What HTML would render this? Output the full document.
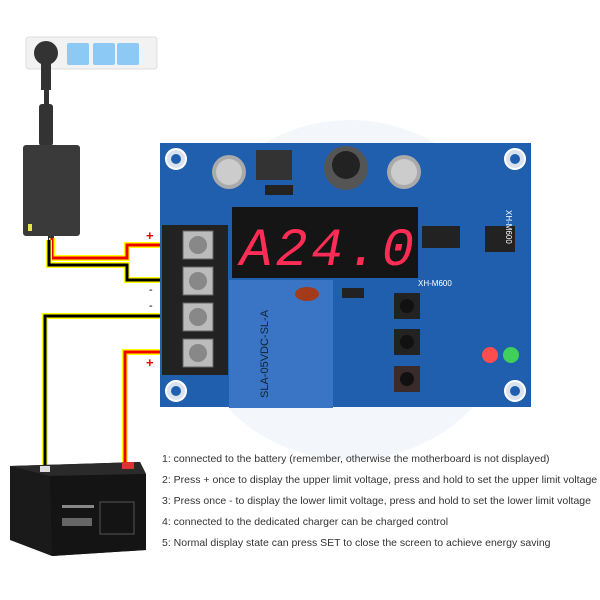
<!DOCTYPE html><html><head><style>body{margin:0;background:#fff}svg{display:block}</style></head><body>
<svg width="600" height="600" xmlns="http://www.w3.org/2000/svg" font-family="Liberation Sans, sans-serif">
<rect width="600" height="600" fill="#fff"/>
<circle cx="350" cy="290" r="170" fill="#f3f6fb"/>
<!-- power strip -->
<rect x="26" y="37" width="131" height="32" rx="3" fill="#f2f2f2" stroke="#ddd"/>
<rect x="67" y="43" width="22" height="22" rx="2" fill="#8ccaf5"/>
<rect x="93" y="43" width="22" height="22" rx="2" fill="#8ccaf5"/>
<rect x="117" y="43" width="22" height="22" rx="2" fill="#8ccaf5"/>
<circle cx="46" cy="53" r="12" fill="#333"/>
<rect x="41" y="60" width="10" height="30" fill="#333"/>
<rect x="44" y="88" width="5" height="30" fill="#333"/>
<rect x="39" y="104" width="14" height="42" rx="3" fill="#333"/>
<!-- adapter -->
<rect x="23" y="145" width="57" height="91" rx="3" fill="#3a3a3a"/>
<rect x="28" y="224" width="4" height="7" fill="#e6e64a"/>
<rect x="48" y="236" width="6" height="12" fill="#333"/>
<!-- wires -->
<g fill="none" stroke-linejoin="miter">
<polyline points="52,238 52,258 127,258 127,245 162,245" stroke="#ff0" stroke-width="6"/>
<polyline points="52,238 52,258 127,258 127,245 162,245" stroke="#e00" stroke-width="3"/>
<polyline points="49,240 49,265 127,265 127,280 162,280" stroke="#ff0" stroke-width="6"/>
<polyline points="49,240 49,265 127,265 127,280 162,280" stroke="#000" stroke-width="3"/>
<polyline points="45,465 45,316 162,316" stroke="#ff0" stroke-width="6"/>
<polyline points="45,465 45,316 162,316" stroke="#000" stroke-width="3"/>
<polyline points="125,462 125,352 162,352" stroke="#ff0" stroke-width="6"/>
<polyline points="125,462 125,352 162,352" stroke="#e00" stroke-width="3"/>
</g>
<text x="146" y="240" fill="#e00" font-size="13" font-weight="bold">+</text>
<text x="146" y="367" fill="#e00" font-size="13" font-weight="bold">+</text>
<text x="149" y="293" font-size="11">-</text>
<text x="149" y="309" font-size="11">-</text>
<!-- board -->
<rect x="160" y="143" width="371" height="264" fill="#1f5fae"/>
<circle cx="176" cy="159" r="10" fill="#d8e3ef" stroke="#fff" stroke-width="2"/><circle cx="176" cy="159" r="5" fill="#1f5fae"/>
<circle cx="515" cy="159" r="10" fill="#d8e3ef" stroke="#fff" stroke-width="2"/><circle cx="515" cy="159" r="5" fill="#1f5fae"/>
<circle cx="515" cy="391" r="10" fill="#d8e3ef" stroke="#fff" stroke-width="2"/><circle cx="515" cy="391" r="5" fill="#1f5fae"/>
<circle cx="176" cy="391" r="10" fill="#d8e3ef" stroke="#fff" stroke-width="2"/><circle cx="176" cy="391" r="5" fill="#1f5fae"/>
<circle cx="229" cy="172" r="17" fill="#aaa"/><circle cx="229" cy="172" r="13" fill="#ccc"/>
<rect x="256" y="150" width="36" height="30" fill="#333"/>
<circle cx="346" cy="168" r="22" fill="#555"/><circle cx="346" cy="165" r="14" fill="#222"/>
<circle cx="404" cy="172" r="17" fill="#aaa"/><circle cx="404" cy="172" r="13" fill="#ccc"/>
<rect x="265" y="185" width="28" height="10" fill="#222"/>
<rect x="232" y="207" width="186" height="71" fill="#151515"/>
<text x="240" y="265" fill="#ff2c55" font-size="54" font-family="Liberation Mono, monospace" font-style="italic" letter-spacing="3">A24.0</text>
<rect x="422" y="226" width="38" height="22" fill="#222"/>
<rect x="485" y="226" width="30" height="26" fill="#222"/>
<text x="506" y="210" fill="#fff" font-size="8" transform="rotate(90 506 210)">XH-M600</text>
<text x="418" y="286" fill="#fff" font-size="8">XH-M600</text>
<rect x="162" y="225" width="66" height="150" fill="#222"/>
<g fill="#bbb" stroke="#666">
<rect x="183" y="231" width="30" height="28"/><rect x="183" y="267" width="30" height="28"/>
<rect x="183" y="303" width="30" height="28"/><rect x="183" y="339" width="30" height="28"/>
</g>
<g fill="#888"><circle cx="198" cy="245" r="9"/><circle cx="198" cy="281" r="9"/><circle cx="198" cy="317" r="9"/><circle cx="198" cy="353" r="9"/></g>
<rect x="229" y="280" width="104" height="128" fill="#3a74c4"/>
<rect x="290" y="290" width="42" height="14" fill="#3a74c4"/>
<ellipse cx="307" cy="294" rx="12" ry="7" fill="#a33a1a"/>
<rect x="342" y="288" width="22" height="10" fill="#222"/>
<text x="268" y="398" fill="#123" font-size="11" transform="rotate(-90 268 398)">SLA-05VDC-SL-A</text>
<rect x="394" y="293" width="26" height="26" fill="#222"/><circle cx="407" cy="306" r="7" fill="#111"/>
<rect x="394" y="329" width="26" height="26" fill="#222"/><circle cx="407" cy="342" r="7" fill="#111"/>
<rect x="394" y="366" width="26" height="26" fill="#3a2a2a"/><circle cx="407" cy="379" r="7" fill="#111"/>
<circle cx="490" cy="355" r="8" fill="#ff4c4c"/><circle cx="511" cy="355" r="8" fill="#3fcf5a"/>
<!-- battery -->
<polygon points="10,466 140,462 146,474 146,550 52,556 10,540" fill="#1a1a1a"/>
<polygon points="10,466 140,462 146,474 50,476" fill="#2a2a2a"/>
<polygon points="50,476 146,474 146,550 52,556" fill="#141414"/>
<rect x="40" y="466" width="10" height="6" fill="#ddd"/>
<rect x="122" y="462" width="12" height="7" fill="#d33"/>
<rect x="62" y="505" width="32" height="3" fill="#888"/>
<rect x="62" y="518" width="30" height="8" fill="#666"/>
<rect x="100" y="502" width="34" height="32" fill="none" stroke="#555"/>
<!-- text -->
<g font-size="10.5" fill="#333">
<text x="162" y="462">1: connected to the battery (remember, otherwise the motherboard is not displayed)</text>
<text x="162" y="483">2: Press + once to display the upper limit voltage, press and hold to set the upper limit voltage</text>
<text x="162" y="504">3: Press once - to display the lower limit voltage, press and hold to set the lower limit voltage</text>
<text x="162" y="525">4: connected to the dedicated charger can be charged control</text>
<text x="162" y="546">5: Normal display state can press SET to close the screen to achieve energy saving</text>
</g>
</svg></body></html>
